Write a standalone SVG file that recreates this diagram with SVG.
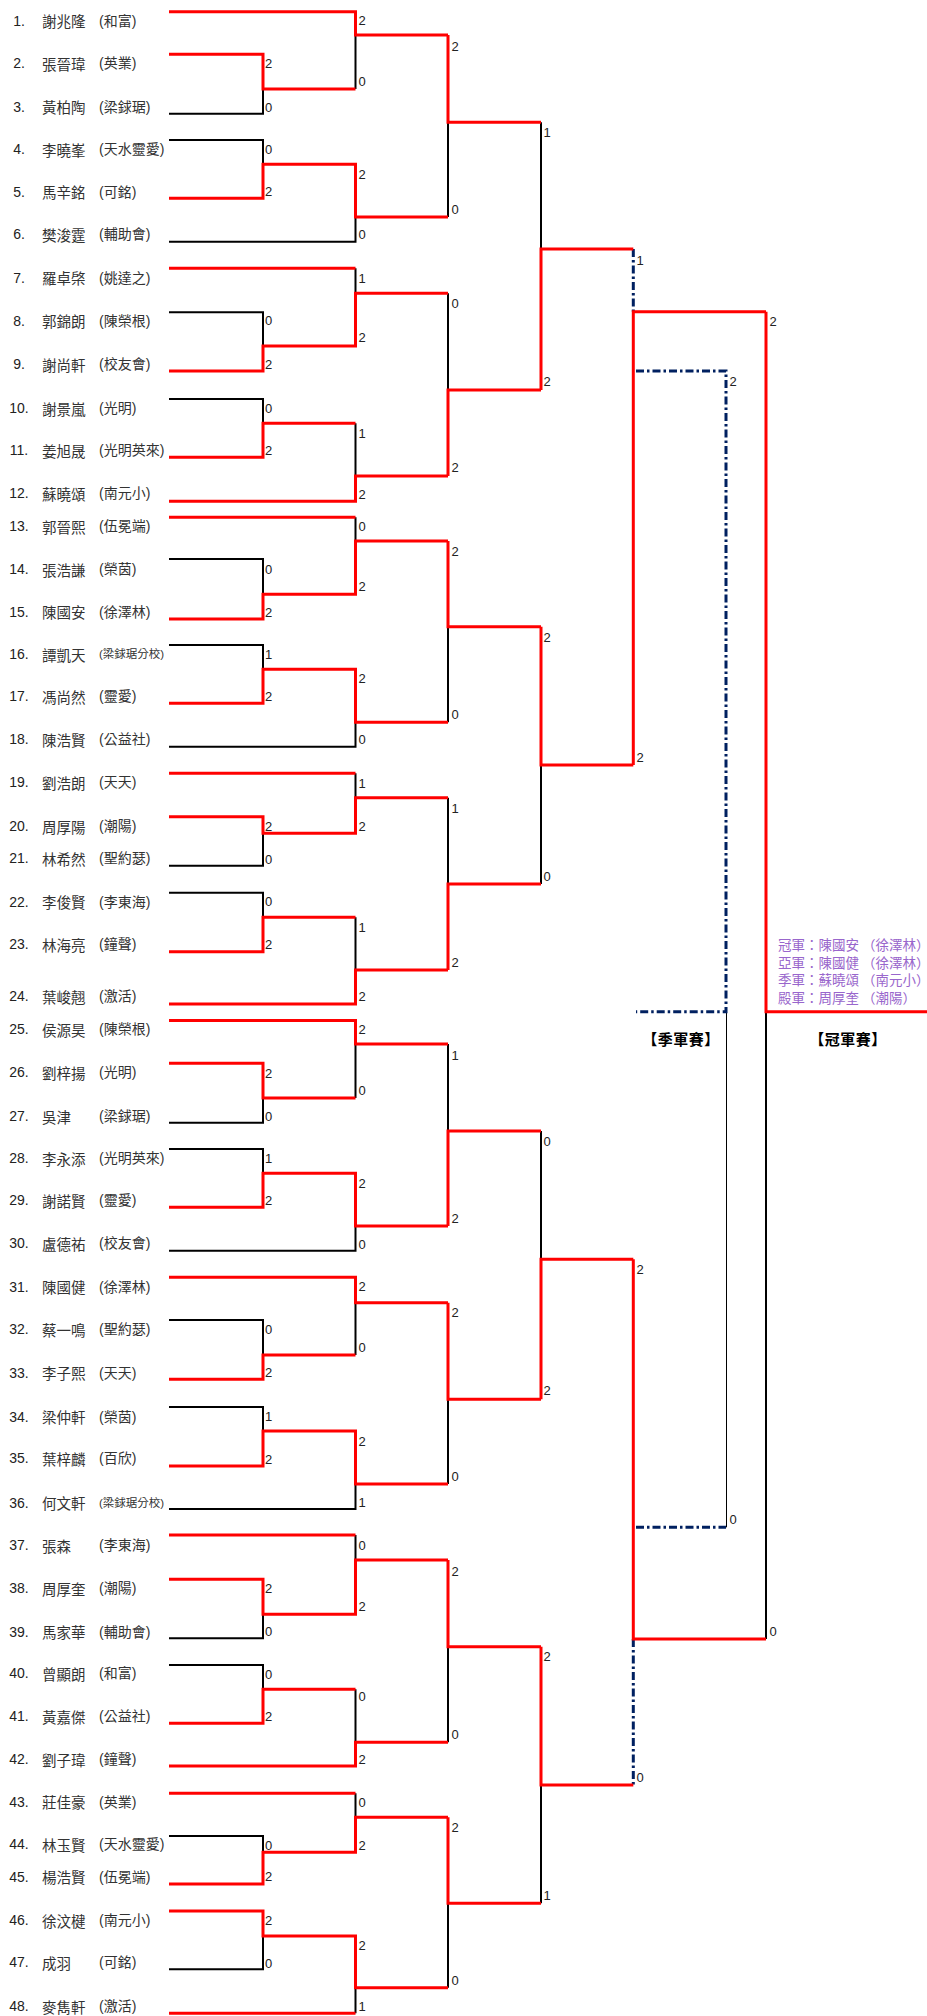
<svg xmlns="http://www.w3.org/2000/svg" width="927" height="2016" viewBox="0 0 927 2016">
<style>
.r{fill:none;stroke:#f00;stroke-width:3}
.k{fill:none;stroke:#000;stroke-width:2}
.d{fill:none;stroke:#002060;stroke-width:3;stroke-dasharray:8 3 2.5 3}
.t{fill:none;stroke:#000;stroke-width:1}
.n{font-family:"Liberation Sans",Arial,sans-serif;font-size:14px;fill:#222;text-anchor:middle;dominant-baseline:central}
.nm{font-family:"Noto Sans CJK TC","Noto Sans CJK SC",sans-serif;font-size:14.5px;fill:#333;dominant-baseline:central}
.cl{font-family:"Liberation Sans","Noto Sans CJK TC",sans-serif;font-size:14px;fill:#333;dominant-baseline:central}
.cs{font-size:11.5px}
.s{font-family:"Liberation Sans",Arial,sans-serif;font-size:13px;fill:#222;dominant-baseline:central}
.h{font-family:"Noto Sans CJK TC",sans-serif;font-size:15px;letter-spacing:0.5px;font-weight:bold;fill:#000;text-anchor:middle;dominant-baseline:central}
.p{font-family:"Noto Sans CJK TC",sans-serif;font-size:13.5px;fill:#9966cc;dominant-baseline:central}
</style>
<rect width="927" height="2016" fill="#fff"/>
<g id="players">
<g id="p1"><text class="n" x="19" y="20.7">1.</text><text class="nm" x="42" y="20.7">謝兆隆</text><text class="cl" x="99" y="20.7">(和富)</text></g>
<g id="p2"><text class="n" x="19" y="63.3">2.</text><text class="nm" x="42" y="63.3">張晉瑋</text><text class="cl" x="99" y="63.3">(英業)</text></g>
<g id="p3"><text class="n" x="19" y="106.7">3.</text><text class="nm" x="42" y="106.7">黃柏陶</text><text class="cl" x="99" y="106.7">(梁銶琚)</text></g>
<g id="p4"><text class="n" x="19" y="149.3">4.</text><text class="nm" x="42" y="149.3">李曉峯</text><text class="cl" x="99" y="149.3">(天水靈愛)</text></g>
<g id="p5"><text class="n" x="19" y="191.7">5.</text><text class="nm" x="42" y="191.7">馬辛銘</text><text class="cl" x="99" y="191.7">(可銘)</text></g>
<g id="p6"><text class="n" x="19" y="234.3">6.</text><text class="nm" x="42" y="234.3">樊浚霆</text><text class="cl" x="99" y="234.3">(輔助會)</text></g>
<g id="p7"><text class="n" x="19" y="277.7">7.</text><text class="nm" x="42" y="277.7">羅卓棨</text><text class="cl" x="99" y="277.7">(姚達之)</text></g>
<g id="p8"><text class="n" x="19" y="320.7">8.</text><text class="nm" x="42" y="320.7">郭錦朗</text><text class="cl" x="99" y="320.7">(陳榮根)</text></g>
<g id="p9"><text class="n" x="19" y="364">9.</text><text class="nm" x="42" y="364">謝尚軒</text><text class="cl" x="99" y="364">(校友會)</text></g>
<g id="p10"><text class="n" x="19" y="408.3">10.</text><text class="nm" x="42" y="408.3">謝景嵐</text><text class="cl" x="99" y="408.3">(光明)</text></g>
<g id="p11"><text class="n" x="19" y="450">11.</text><text class="nm" x="42" y="450">姜旭晟</text><text class="cl" x="99" y="450">(光明英來)</text></g>
<g id="p12"><text class="n" x="19" y="493.3">12.</text><text class="nm" x="42" y="493.3">蘇曉頌</text><text class="cl" x="99" y="493.3">(南元小)</text></g>
<g id="p13"><text class="n" x="19" y="526">13.</text><text class="nm" x="42" y="526">郭晉熙</text><text class="cl" x="99" y="526">(伍冕端)</text></g>
<g id="p14"><text class="n" x="19" y="569">14.</text><text class="nm" x="42" y="569">張浩謙</text><text class="cl" x="99" y="569">(榮茵)</text></g>
<g id="p15"><text class="n" x="19" y="611.7">15.</text><text class="nm" x="42" y="611.7">陳國安</text><text class="cl" x="99" y="611.7">(徐澤林)</text></g>
<g id="p16"><text class="n" x="19" y="654">16.</text><text class="nm" x="42" y="654">譚凱天</text><text class="cl cs" x="99" y="654">(梁銶琚分校)</text></g>
<g id="p17"><text class="n" x="19" y="696">17.</text><text class="nm" x="42" y="696">馮尚然</text><text class="cl" x="99" y="696">(靈愛)</text></g>
<g id="p18"><text class="n" x="19" y="739.3">18.</text><text class="nm" x="42" y="739.3">陳浩賢</text><text class="cl" x="99" y="739.3">(公益社)</text></g>
<g id="p19"><text class="n" x="19" y="782">19.</text><text class="nm" x="42" y="782">劉浩朗</text><text class="cl" x="99" y="782">(天天)</text></g>
<g id="p20"><text class="n" x="19" y="826">20.</text><text class="nm" x="42" y="826">周厚陽</text><text class="cl" x="99" y="826">(潮陽)</text></g>
<g id="p21"><text class="n" x="19" y="858.3">21.</text><text class="nm" x="42" y="858.3">林希然</text><text class="cl" x="99" y="858.3">(聖約瑟)</text></g>
<g id="p22"><text class="n" x="19" y="901.7">22.</text><text class="nm" x="42" y="901.7">李俊賢</text><text class="cl" x="99" y="901.7">(李東海)</text></g>
<g id="p23"><text class="n" x="19" y="944.3">23.</text><text class="nm" x="42" y="944.3">林海亮</text><text class="cl" x="99" y="944.3">(鐘聲)</text></g>
<g id="p24"><text class="n" x="19" y="996">24.</text><text class="nm" x="42" y="996">葉峻翹</text><text class="cl" x="99" y="996">(激活)</text></g>
<g id="p25"><text class="n" x="19" y="1029.3">25.</text><text class="nm" x="42" y="1029.3">侯源昊</text><text class="cl" x="99" y="1029.3">(陳榮根)</text></g>
<g id="p26"><text class="n" x="19" y="1072.3">26.</text><text class="nm" x="42" y="1072.3">劉梓揚</text><text class="cl" x="99" y="1072.3">(光明)</text></g>
<g id="p27"><text class="n" x="19" y="1116">27.</text><text class="nm" x="42" y="1116">吳津</text><text class="cl" x="99" y="1116">(梁銶琚)</text></g>
<g id="p28"><text class="n" x="19" y="1158.3">28.</text><text class="nm" x="42" y="1158.3">李永添</text><text class="cl" x="99" y="1158.3">(光明英來)</text></g>
<g id="p29"><text class="n" x="19" y="1200">29.</text><text class="nm" x="42" y="1200">謝諾賢</text><text class="cl" x="99" y="1200">(靈愛)</text></g>
<g id="p30"><text class="n" x="19" y="1243.3">30.</text><text class="nm" x="42" y="1243.3">盧德祐</text><text class="cl" x="99" y="1243.3">(校友會)</text></g>
<g id="p31"><text class="n" x="19" y="1286.7">31.</text><text class="nm" x="42" y="1286.7">陳國健</text><text class="cl" x="99" y="1286.7">(徐澤林)</text></g>
<g id="p32"><text class="n" x="19" y="1329.3">32.</text><text class="nm" x="42" y="1329.3">蔡一鳴</text><text class="cl" x="99" y="1329.3">(聖約瑟)</text></g>
<g id="p33"><text class="n" x="19" y="1372.7">33.</text><text class="nm" x="42" y="1372.7">李子熙</text><text class="cl" x="99" y="1372.7">(天天)</text></g>
<g id="p34"><text class="n" x="19" y="1416.7">34.</text><text class="nm" x="42" y="1416.7">梁仲軒</text><text class="cl" x="99" y="1416.7">(榮茵)</text></g>
<g id="p35"><text class="n" x="19" y="1458.3">35.</text><text class="nm" x="42" y="1458.3">葉梓麟</text><text class="cl" x="99" y="1458.3">(百欣)</text></g>
<g id="p36"><text class="n" x="19" y="1502.7">36.</text><text class="nm" x="42" y="1502.7">何文軒</text><text class="cl cs" x="99" y="1502.7">(梁銶琚分校)</text></g>
<g id="p37"><text class="n" x="19" y="1545">37.</text><text class="nm" x="42" y="1545">張森</text><text class="cl" x="99" y="1545">(李東海)</text></g>
<g id="p38"><text class="n" x="19" y="1588.3">38.</text><text class="nm" x="42" y="1588.3">周厚奎</text><text class="cl" x="99" y="1588.3">(潮陽)</text></g>
<g id="p39"><text class="n" x="19" y="1631.7">39.</text><text class="nm" x="42" y="1631.7">馬家華</text><text class="cl" x="99" y="1631.7">(輔助會)</text></g>
<g id="p40"><text class="n" x="19" y="1673.3">40.</text><text class="nm" x="42" y="1673.3">曾顯朗</text><text class="cl" x="99" y="1673.3">(和富)</text></g>
<g id="p41"><text class="n" x="19" y="1716">41.</text><text class="nm" x="42" y="1716">黃嘉傑</text><text class="cl" x="99" y="1716">(公益社)</text></g>
<g id="p42"><text class="n" x="19" y="1759.3">42.</text><text class="nm" x="42" y="1759.3">劉子瑋</text><text class="cl" x="99" y="1759.3">(鐘聲)</text></g>
<g id="p43"><text class="n" x="19" y="1801.7">43.</text><text class="nm" x="42" y="1801.7">莊佳豪</text><text class="cl" x="99" y="1801.7">(英業)</text></g>
<g id="p44"><text class="n" x="19" y="1844.3">44.</text><text class="nm" x="42" y="1844.3">林玉賢</text><text class="cl" x="99" y="1844.3">(天水靈愛)</text></g>
<g id="p45"><text class="n" x="19" y="1876.7">45.</text><text class="nm" x="42" y="1876.7">楊浩賢</text><text class="cl" x="99" y="1876.7">(伍冕端)</text></g>
<g id="p46"><text class="n" x="19" y="1920">46.</text><text class="nm" x="42" y="1920">徐汶楗</text><text class="cl" x="99" y="1920">(南元小)</text></g>
<g id="p47"><text class="n" x="19" y="1962.3">47.</text><text class="nm" x="42" y="1962.3">成羽</text><text class="cl" x="99" y="1962.3">(可銘)</text></g>
<g id="p48"><text class="n" x="19" y="2006">48.</text><text class="nm" x="42" y="2006">麥雋軒</text><text class="cl" x="99" y="2006">(激活)</text></g>
</g>
<g id="connectors">
<g id="black-lines">
<path class="k" d="M169 113.7H263V89M355.5 35V89"/>
<path class="k" d="M169 140H263V164.3M169 241.7H355.5V217"/>
<path class="k" d="M169 312.3H263V346M355.5 268.3V293.3"/>
<path class="k" d="M169 399H263V423.3M355.5 423.3V476"/>
<path class="k" d="M169 559H263V594.3M355.5 517.3V541"/>
<path class="k" d="M169 645H263V669.3M169 746.7H355.5V722.3"/>
<path class="k" d="M169 865.7H263V833.3M355.5 773.3V797.7"/>
<path class="k" d="M169 892.7H263V917.3M355.5 917.3V970"/>
<path class="k" d="M169 1122.7H263V1098M355.5 1044V1098"/>
<path class="k" d="M169 1149H263V1173.3M169 1250.7H355.5V1226"/>
<path class="k" d="M169 1320H263V1355M355.5 1302.7V1355"/>
<path class="k" d="M169 1407H263V1431M169 1509H355.5V1484"/>
<path class="k" d="M169 1638.3H263V1614.3M355.5 1535V1560"/>
<path class="k" d="M169 1665H263V1689.3M355.5 1689.3V1742.3"/>
<path class="k" d="M169 1836H263V1852.3M355.5 1793.3V1817.3"/>
<path class="k" d="M169 1969.3H263V1936M355.5 2013.3V1987.7"/>
<path class="k" d="M448 122.3V217M448 293.3V390M448 626.7V722.3M448 797.7V884M448 1044V1131M448 1399.3V1484M448 1646.7V1742.3M448 1903.3V1987.7"/>
<path class="k" d="M541 122.3V249M541 765V884M541 1131V1259.3M541 1785V1903.3"/>
<path class="k" d="M766 1011.7V1639"/>
<path class="t" d="M726.5 1011.7V1527.3"/>
</g>
<g id="dash-lines">
<path class="d" d="M633.3 249V311.7M633.3 1639V1785"/>
<path class="d" d="M636 371H726V1011.7H636M636 1527.3H726"/>
</g>
<g id="red-lines">
<path class="r" d="M169 11.7H355.5V35H448M169 54.3H263V89H355.5"/>
<path class="r" d="M169 198.3H263V164.3H355.5V217H448"/>
<path class="r" d="M169 268.3H355.5M169 371H263V346H355.5V293.3H448"/>
<path class="r" d="M169 457.3H263V423.3H355.5M169 501.3H355.5V476H448"/>
<path class="r" d="M169 517.3H355.5M169 619H263V594.3H355.5V541H448"/>
<path class="r" d="M169 703.3H263V669.3H355.5V722.3H448"/>
<path class="r" d="M169 773.3H355.5M169 816.7H263V833.3H355.5V797.7H448"/>
<path class="r" d="M169 951.7H263V917.3H355.5M169 1004H355.5V970H448"/>
<path class="r" d="M169 1020.5H355.5V1044H448M169 1063.3H263V1098H355.5"/>
<path class="r" d="M169 1207.3H263V1173.3H355.5V1226H448"/>
<path class="r" d="M169 1277.3H355.5V1302.7H448M169 1379.3H263V1355H355.5"/>
<path class="r" d="M169 1466H263V1431H355.5V1484H448"/>
<path class="r" d="M169 1535H355.5M169 1579.3H263V1614.3H355.5V1560H448"/>
<path class="r" d="M169 1723.3H263V1689.3H355.5M169 1766H355.5V1742.3H448"/>
<path class="r" d="M169 1793.3H355.5M169 1884H263V1852.3H355.5V1817.3H448"/>
<path class="r" d="M169 1911H263V1936H355.5V1987.7H448M169 2013.3H355.5"/>
<path class="r" d="M448 35V122.3H541M448 476V390H541M448 541V626.7H541M448 970V884H541M448 1226V1131H541M448 1302.7V1399.3H541M448 1560V1646.7H541M448 1817.3V1903.3H541"/>
<path class="r" d="M541 390V249H633.3M541 626.7V765H633.3M541 1399.3V1259.3H633.3M541 1646.7V1785H633.3"/>
<path class="r" d="M633.3 765V311.7H766M633.3 1259.3V1639H766"/>
<path class="r" d="M766 311.7V1011.7H927"/>
</g>
</g>
<g id="scores">
<text class="s" x="265" y="63">2</text><text class="s" x="265" y="107">0</text>
<text class="s" x="265" y="149.3">0</text><text class="s" x="265" y="191.7">2</text>
<text class="s" x="265" y="320.7">0</text><text class="s" x="265" y="364">2</text>
<text class="s" x="265" y="408.3">0</text><text class="s" x="265" y="450.3">2</text>
<text class="s" x="265" y="569.3">0</text><text class="s" x="265" y="612">2</text>
<text class="s" x="265" y="654">1</text><text class="s" x="265" y="696">2</text>
<text class="s" x="265" y="826">2</text><text class="s" x="265" y="859.3">0</text>
<text class="s" x="265" y="901.7">0</text><text class="s" x="265" y="944.3">2</text>
<text class="s" x="265" y="1073.3">2</text><text class="s" x="265" y="1116.7">0</text>
<text class="s" x="265" y="1158.3">1</text><text class="s" x="265" y="1200">2</text>
<text class="s" x="265" y="1329.3">0</text><text class="s" x="265" y="1372.7">2</text>
<text class="s" x="265" y="1416.7">1</text><text class="s" x="265" y="1459">2</text>
<text class="s" x="265" y="1588.3">2</text><text class="s" x="265" y="1631.7">0</text>
<text class="s" x="265" y="1674">0</text><text class="s" x="265" y="1716">2</text>
<text class="s" x="265" y="1845">0</text><text class="s" x="265" y="1876.7">2</text>
<text class="s" x="265" y="1920.7">2</text><text class="s" x="265" y="1963.3">0</text>
<text class="s" x="358.5" y="20">2</text><text class="s" x="358.5" y="81">0</text>
<text class="s" x="358.5" y="174">2</text><text class="s" x="358.5" y="234">0</text>
<text class="s" x="358.5" y="278">1</text><text class="s" x="358.5" y="337">2</text>
<text class="s" x="358.5" y="433.3">1</text><text class="s" x="358.5" y="494">2</text>
<text class="s" x="358.5" y="526">0</text><text class="s" x="358.5" y="586">2</text>
<text class="s" x="358.5" y="678">2</text><text class="s" x="358.5" y="739.3">0</text>
<text class="s" x="358.5" y="783.3">1</text><text class="s" x="358.5" y="826">2</text>
<text class="s" x="358.5" y="927.3">1</text><text class="s" x="358.5" y="996.7">2</text>
<text class="s" x="358.5" y="1029.3">2</text><text class="s" x="358.5" y="1090">0</text>
<text class="s" x="358.5" y="1183.3">2</text><text class="s" x="358.5" y="1244">0</text>
<text class="s" x="358.5" y="1286.7">2</text><text class="s" x="358.5" y="1347.3">0</text>
<text class="s" x="358.5" y="1441">2</text><text class="s" x="358.5" y="1502.7">1</text>
<text class="s" x="358.5" y="1545">0</text><text class="s" x="358.5" y="1606">2</text>
<text class="s" x="358.5" y="1696.7">0</text><text class="s" x="358.5" y="1759.3">2</text>
<text class="s" x="358.5" y="1802.3">0</text><text class="s" x="358.5" y="1845">2</text>
<text class="s" x="358.5" y="1945">2</text><text class="s" x="358.5" y="2006">1</text>
<text class="s" x="451.5" y="46">2</text><text class="s" x="451.5" y="209">0</text>
<text class="s" x="451.5" y="303">0</text><text class="s" x="451.5" y="467.7">2</text>
<text class="s" x="451.5" y="551">2</text><text class="s" x="451.5" y="714.3">0</text>
<text class="s" x="451.5" y="808.3">1</text><text class="s" x="451.5" y="962.7">2</text>
<text class="s" x="451.5" y="1055">1</text><text class="s" x="451.5" y="1218.3">2</text>
<text class="s" x="451.5" y="1312.3">2</text><text class="s" x="451.5" y="1476.7">0</text>
<text class="s" x="451.5" y="1571">2</text><text class="s" x="451.5" y="1734.3">0</text>
<text class="s" x="451.5" y="1827.3">2</text><text class="s" x="451.5" y="1980">0</text>
<text class="s" x="543.5" y="132.3">1</text><text class="s" x="543.5" y="381.7">2</text>
<text class="s" x="543.5" y="637.3">2</text><text class="s" x="543.5" y="876.7">0</text>
<text class="s" x="543.5" y="1141">0</text><text class="s" x="543.5" y="1390">2</text>
<text class="s" x="543.5" y="1656">2</text><text class="s" x="543.5" y="1895.7">1</text>
<text class="s" x="636.5" y="260">1</text><text class="s" x="636.5" y="757.3">2</text>
<text class="s" x="636.5" y="1269">2</text><text class="s" x="636.5" y="1777.3">0</text>
<text class="s" x="769.5" y="321">2</text><text class="s" x="769.5" y="1631">0</text>
<text class="s" x="729.5" y="381.7">2</text><text class="s" x="729.5" y="1519">0</text>
</g>
<g id="titles">
<text class="h" x="681" y="1038">【季軍賽】</text>
<text class="h" x="848" y="1038">【冠軍賽】</text>
</g>
<g id="results">
<text class="p" x="778" y="944">冠軍：陳國安 （徐澤林）</text>
<text class="p" x="778" y="961.7">亞軍：陳國健 （徐澤林）</text>
<text class="p" x="778" y="979.3">季軍：蘇曉頌 （南元小）</text>
<text class="p" x="778" y="996.7">殿軍：周厚奎 （潮陽）</text>
</g>
</svg>
